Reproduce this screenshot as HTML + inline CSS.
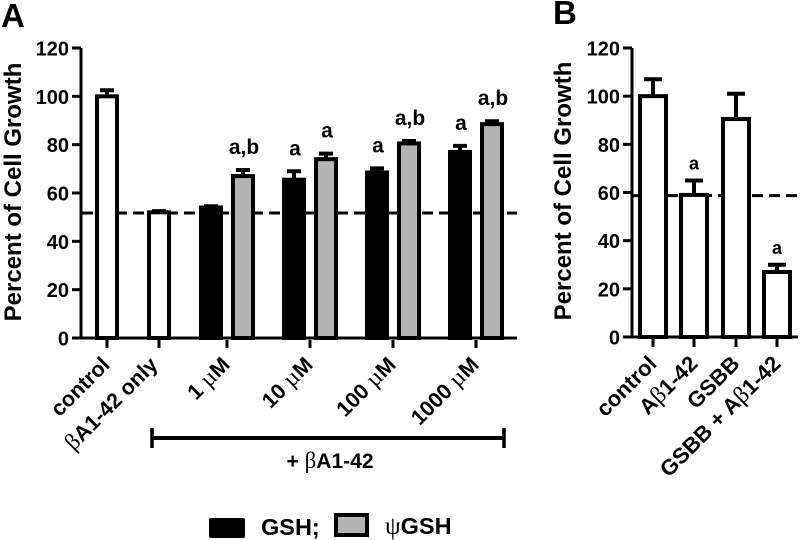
<!DOCTYPE html>
<html>
<head>
<meta charset="utf-8">
<style>
html,body{margin:0;padding:0;background:#fff;width:800px;height:540px;overflow:hidden}
svg{display:block;filter:blur(0.35px)}
text{font-family:"Liberation Sans",sans-serif;font-weight:bold;fill:#000}
.g{font-family:"Liberation Serif",serif;font-weight:normal}
</style>
</head>
<body>
<svg id="chart" width="800" height="540" viewBox="0 0 800 540" xmlns="http://www.w3.org/2000/svg">
  <text x="1" y="27" font-size="33">A</text>
  <text x="553" y="24" font-size="33">B</text>
  <text transform="translate(21,192) rotate(-90)" text-anchor="middle" font-size="24">Percent of Cell Growth</text>
  <text transform="translate(571,191) rotate(-90)" text-anchor="middle" font-size="24">Percent of Cell Growth</text>
  <g>
    <path d="M152 428V448M504 428V448" stroke="#000" stroke-width="3.5" fill="none"/>
    <path d="M152 438H504" stroke="#000" stroke-width="4" fill="none"/>
  </g>
  <text x="330" y="468" text-anchor="middle" font-size="21">+ <tspan class="g" font-size="23">β</tspan>A1-42</text>
  <g>
    <rect x="209" y="518" width="36" height="20" rx="2" fill="#000"/>
    <text x="261" y="535" font-size="23.5">GSH;</text>
    <rect x="336" y="515" width="31" height="20" fill="#b3b3b3" stroke="#000" stroke-width="4"/>
    <text x="385" y="534" font-size="23.5"><tspan class="g" font-size="25">ψ</tspan>GSH</text>
  </g>
</svg>
<script>
var yTicks = [0, 20, 40, 60, 80, 100, 120];

var aCategories = ["control", "βA1-42 only", "1 µM", "10 µM", "100 µM", "1000 µM"];
var aControlValues = [100, 52];
var aControlErrors = [2.5, 0.5];
var aGshValues = [54, 65.5, 68.5, 77];
var aGshErrors = [0.5, 3.5, 1.7, 2.5];
var aPsiValues = [67, 74, 80.5, 88.5];
var aPsiErrors = [2.5, 2.3, 1, 1.2];
var aGshNotes = ["", "a", "a", "a"];
var aPsiNotes = ["a,b", "a", "a,b", "a,b"];
var aBaseline = 51.7;

var bCategories = ["control", "Aβ1-42", "GSBB", "GSBB + Aβ1-42"];
var bValues = [100, 59, 90.5, 27];
var bErrors = [7, 6, 10.5, 3];
var bNotes = ["", "a", "", "a"];
var bBaseline = 58.7;

var NS = "http://www.w3.org/2000/svg";
var svg = document.getElementById("chart");

function make(tag, attrs, parent) {
  var el = document.createElementNS(NS, tag);
  for (var k in attrs) el.setAttribute(k, attrs[k]);
  (parent || svg).appendChild(el);
  return el;
}
function yScale(top, bottom) {
  return function (v) { return bottom - (v / 120) * (bottom - top); };
}
function setLabel(el, text, size) {
  var parts = text.split(/([βµ])/);
  parts.forEach(function (p) {
    if (!p) return;
    var ts = make("tspan", {}, el);
    if (p === "β" || p === "µ") {
      ts.setAttribute("class", "g");
      ts.setAttribute("font-size", size + 2);
    }
    ts.textContent = p;
  });
}
function drawAxes(prefix, cfg, y) {
  var g = make("g", {});
  
  
  make("path", { d: "M" + cfg.axisX + " " + y(120) + "V" + (y(0) + 1.5), stroke: "#000", "stroke-width": 3, fill: "none" }, g);
  make("path", { d: "M" + (cfg.axisX - 9) + " " + y(0) + "H" + cfg.axisEnd, stroke: "#000", "stroke-width": 3, fill: "none" }, g);
  yTicks.forEach(function (t) {
    make("path", { d: "M" + (cfg.axisX - 9) + " " + y(t) + "H" + cfg.axisX, stroke: "#000", "stroke-width": 3, fill: "none" }, g);
    var lab = make("text", { x: cfg.axisX - 12, y: y(t) + 7.500, "text-anchor": "end", "font-size": 20 }, g);
    
    
    lab.textContent = t;
  });
}
function drawTickAndLabel(prefix, x, y0, text, size, dx) {
  var t = make("path", { d: "M" + x + " " + (y0 + 2) + "V" + (y0 + 10), stroke: "#000", "stroke-width": 3, fill: "none" });
  
  
  var lab = make("text", { "text-anchor": "end", "font-size": size, transform: "translate(" + (x + dx) + "," + (y0 + 28) + ") rotate(-45)" });
  
  
  setLabel(lab, text, size);
}
function drawBar(prefix, cx, w, value, err, fill, capW, y, note, noteSize, noteGap, noteDx) {
  var g = make("g", {});
  
  
  var top = y(value), y0 = y(0), capY = y(value + err);
  make("path", { d: "M" + cx + " " + top + "V" + capY + "M" + (cx - capW / 2) + " " + capY + "H" + (cx + capW / 2), stroke: "#000", "stroke-width": 4, fill: "none" }, g);
  make("rect", { x: cx - w / 2 + 2, y: top, width: w - 4, height: y0 - top, fill: fill, stroke: "#000", "stroke-width": 4 }, g);
  if (note) {
    var n = make("text", { x: cx + noteDx, y: capY - noteGap, "text-anchor": "middle", "font-size": noteSize });
    
    
    n.textContent = note;
  }
}
function drawBaseline(prefix, value, x1, x2, y, dash) {
  var l = make("line", { x1: x1, x2: x2, y1: y(value), y2: y(value), stroke: "#000", "stroke-width": 3, "stroke-dasharray": dash });
  
  
}

/* Panel A */
var yA = yScale(48, 338);
var aTicks = [107, 159, 227, 310, 393, 476];
drawBaseline("panel-a", aBaseline, 82, 517, yA, "11 6");
aControlValues.forEach(function (v, i) {
  drawBar("panel-a-control", aTicks[i], 24, v, aControlErrors[i], "#fff", 14, yA, "", 21, 16, 0);
});
aGshValues.forEach(function (v, i) {
  drawBar("panel-a-gsh", aTicks[i + 2] - 16, 24, v, aGshErrors[i], "#000", 14, yA, aGshNotes[i], 21, 16, 1);
});
aPsiValues.forEach(function (v, i) {
  drawBar("panel-a-psi-gsh", aTicks[i + 2] + 16, 24, v, aPsiErrors[i], "#b3b3b3", 14, yA, aPsiNotes[i], 21, 16, 1);
});
drawAxes("panel-a", { axisX: 81, axisEnd: 517 }, yA);
aCategories.forEach(function (c, i) {
  drawTickAndLabel("panel-a", aTicks[i], yA(0), c, 21.5, i === 1 ? 0 : 4);
});

/* Panel B */
var yB = yScale(48, 337);
var bTicks = [653, 694, 736, 777];
drawBaseline("panel-b", bBaseline, 633, 800, yB, "11 6");
bValues.forEach(function (v, i) {
  drawBar("panel-b", bTicks[i], 30, v, bErrors[i], "#fff", 18, yB, bNotes[i], 18, 11, 0);
});
drawAxes("panel-b", { axisX: 632, axisEnd: 798 }, yB);
bCategories.forEach(function (c, i) {
  drawTickAndLabel("panel-b", bTicks[i], yB(0), c, 22, 5);
});
</script>
</body>
</html>
